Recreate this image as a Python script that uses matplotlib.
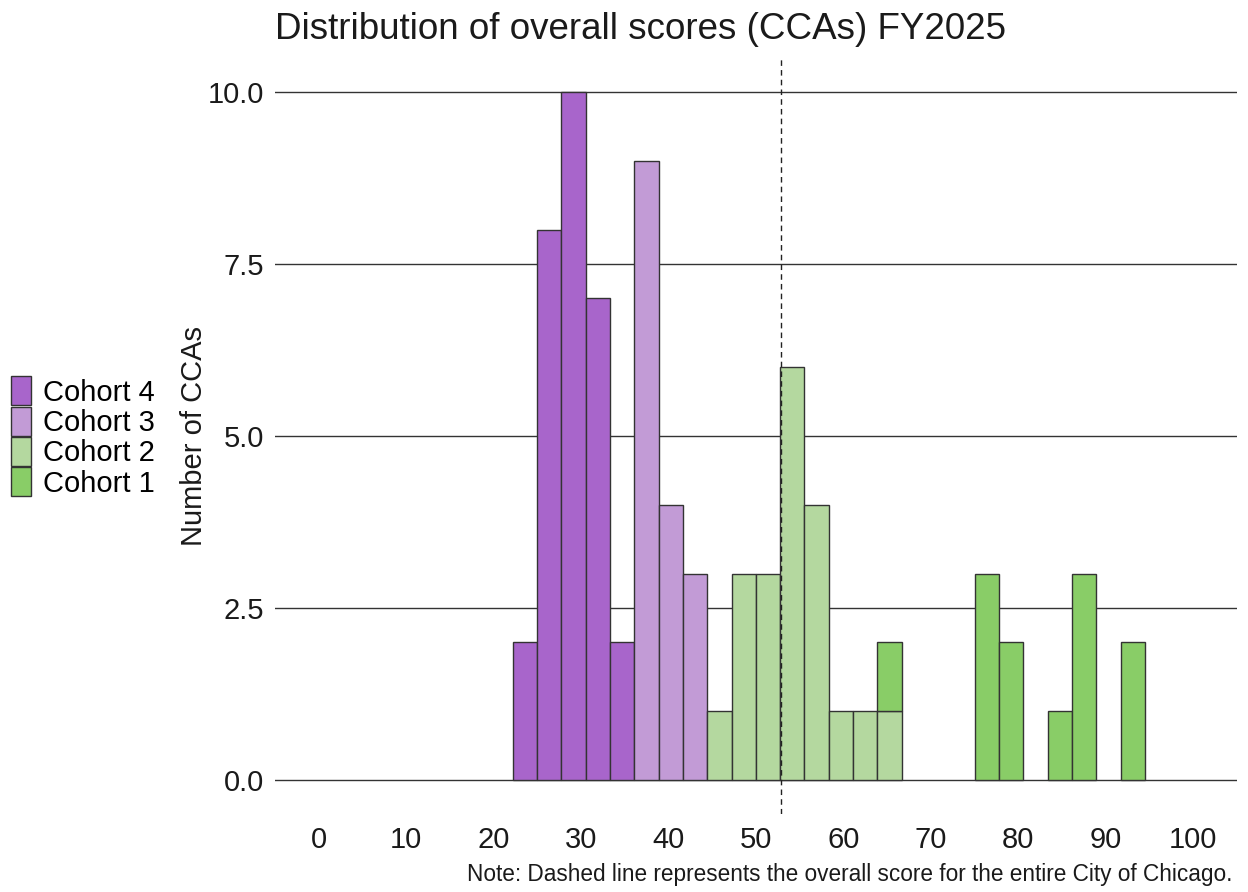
import numpy as np
import matplotlib
matplotlib.use("Agg")
import matplotlib.pyplot as plt
from matplotlib.patches import Patch

plt.rcParams['font.family'] = ['Liberation Sans', 'DejaVu Sans']

# Histogram bins (overall score)
bin_lower = 22.17
bin_width = 2.781
n_bins = 26

# Counts of CCAs per bin, by cohort
cohort4 = [2, 8, 10, 7, 2, 0, 0, 0, 0, 0, 0, 0, 0, 0, 0, 0, 0, 0, 0, 0, 0, 0, 0, 0, 0, 0]
cohort3 = [0, 0, 0, 0, 0, 9, 4, 3, 0, 0, 0, 0, 0, 0, 0, 0, 0, 0, 0, 0, 0, 0, 0, 0, 0, 0]
cohort2 = [0, 0, 0, 0, 0, 0, 0, 0, 1, 3, 3, 6, 4, 1, 1, 1, 0, 0, 0, 0, 0, 0, 0, 0, 0, 0]
cohort1 = [0, 0, 0, 0, 0, 0, 0, 0, 0, 0, 0, 0, 0, 0, 0, 1, 0, 0, 0, 3, 2, 0, 1, 3, 0, 2]

city_score = 52.85

cohort_names = ["Cohort 4", "Cohort 3", "Cohort 2", "Cohort 1"]
cohort_counts = [cohort4, cohort3, cohort2, cohort1]
cohort_colors = ["#A865CB", "#C29BD6", "#B4D89F", "#89CD67"]

x_ticks = [0, 10, 20, 30, 40, 50, 60, 70, 80, 90, 100]
y_ticks = [0.0, 2.5, 5.0, 7.5, 10.0]

edges = bin_lower + bin_width * np.arange(n_bins + 1)
lefts = edges[:-1]

fig = plt.figure(figsize=(12.48, 8.92), dpi=100)
ax = fig.add_axes([275 / 1248, 1 - 814.4 / 892, (1237 - 275) / 1248, (814.4 - 57.6) / 892])

for y in y_ticks:
    ax.axhline(y, color="#333333", linewidth=1.0, zorder=0)

bottom = np.zeros(n_bins)
for name, counts, color in zip(cohort_names, cohort_counts, cohort_colors):
    counts = np.asarray(counts, dtype=float)
    mask = counts > 0
    ax.bar(lefts[mask], counts[mask], width=bin_width, bottom=bottom[mask],
           align="edge", color=color, edgecolor="#333333", linewidth=1.0, zorder=2)
    bottom += counts

ax.axvline(city_score, color="#222222", linewidth=1.0, linestyle=(0, (4, 3)), zorder=3)

ax.set_xlim(-5, 105)
ax.set_ylim(-0.5, 10.5)
ax.set_xticks(x_ticks)
ax.set_yticks(y_ticks)
ax.set_yticklabels([f"{v:.1f}" for v in y_ticks])
ax.tick_params(axis="both", length=0, labelsize=21, colors="#1a1a1a")
ax.tick_params(axis="x", pad=8)
ax.tick_params(axis="y", pad=8)
for s in ax.spines.values():
    s.set_visible(False)

ax.set_ylabel("Number of CCAs", fontsize=21, color="#1a1a1a", labelpad=0)

fig.text(275 / 1248, 1 - 39 / 892, "Distribution of overall scores (CCAs) FY2025",
         fontsize=26.5, color="#1a1a1a", ha="left", va="baseline")
fig.text(1232 / 1248, 1 - 881 / 892,
         "Note: Dashed line represents the overall score for the entire City of Chicago.",
         fontsize=16.3, color="#1a1a1a", ha="right", va="baseline")

handles = [Patch(facecolor=c, edgecolor="#333333", linewidth=1.0) for c in cohort_colors]
fs = 21
em = fs * 100 / 72
fig.legend(handles, cohort_names, loc="center left",
           bbox_to_anchor=(11 / 1248, 1 - 437 / 892), frameon=False,
           fontsize=fs, handlelength=20 / em, handleheight=33.5 / em,
           labelspacing=0, handletextpad=12 / em, borderpad=0, borderaxespad=0)

fig.savefig("out.png", dpi=100, facecolor="white")
